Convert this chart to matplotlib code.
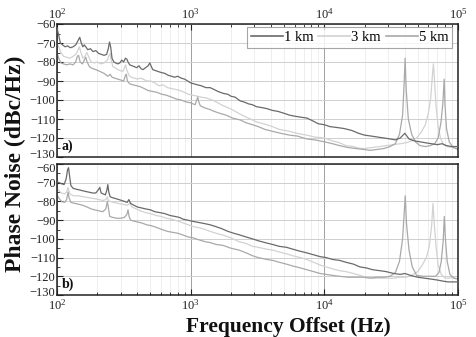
import matplotlib
matplotlib.use("Agg")
import matplotlib.pyplot as plt
import matplotlib.transforms as mtransforms
from matplotlib.ticker import LogLocator, MultipleLocator, FixedLocator

plt.rcParams['font.family'] = ['Liberation Serif', 'DejaVu Serif']
plt.rcParams['mathtext.fontset'] = 'custom'
plt.rcParams['mathtext.rm'] = 'Liberation Serif'
plt.rcParams['mathtext.it'] = 'Liberation Serif:italic'
plt.rcParams['mathtext.bf'] = 'Liberation Serif:bold'

series_labels = ["1 km", "3 km", "5 km"]
series_colors = ["#6a6a6a", "#d2d2d2", "#a9a9a9"]
yticks = [-60, -70, -80, -90, -100, -110, -120, -130]
xtick_labels = ["10$^{2}$", "10$^{3}$", "10$^{4}$", "10$^{5}$"]
xtick_values = [1e2, 1e3, 1e4, 1e5]

# ---------------- panel a ----------------
a_1km_f = [100, 103, 106, 110, 115, 120, 126, 132, 138, 143, 148, 152, 156, 160, 164, 170, 178, 186, 195, 205,
           215, 225, 235, 242, 247, 252, 258, 266, 275, 285, 295, 305, 315, 325, 333, 340, 350, 365, 380, 395,
           410, 425, 440, 460, 480, 495, 505, 520, 545, 570, 600, 640, 680, 720, 760, 800, 850, 900, 950, 1000,
           1060, 1120, 1200, 1300, 1400, 1500, 1600, 1750, 1900, 2000, 2150, 2350, 2500, 2700, 2900, 3100, 3400,
           3700, 4100, 4500, 5000, 5500, 6000, 6600, 7400, 8200, 9000, 10000, 11000, 12500, 14000, 16000, 18000,
           20000, 22500, 25000, 28000, 31000, 34000, 37000, 40000, 43000, 47000, 52000, 57000, 63000, 70000,
           76000, 82000, 90000, 100000]
a_1km_v = [-62, -66, -70, -71, -72, -71.5, -72.5, -72, -71, -69, -67, -70, -72, -71, -72, -73.5, -73, -74.5, -74, -75.5,
           -76, -76.5, -76, -73, -69.5, -72, -78, -80, -80.5, -81, -80.5, -79, -80, -78, -78.5, -80, -81.5, -82, -82.5, -83,
           -82, -83.5, -84, -83, -82, -80.5, -82, -84, -84.5, -85, -85.5, -86, -87, -87.5, -88, -87.5, -88.5, -89, -90, -91,
           -91.5, -92, -92.5, -93.5, -93.5, -94.5, -95.5, -96.5, -97, -98, -98.5, -100.5, -101, -102, -102.5, -103.5, -104,
           -104.5, -105.5, -106, -107, -108, -108.5, -109, -109.5, -111, -112.5, -113, -114, -114.5, -115, -116, -117.5,
           -118.5, -119, -119.5, -120, -120.5, -121, -120, -117.5, -120.5, -121.5, -122, -122.5, -123, -123.5,
           -123, -124, -124.5, -124.5]

a_3km_f = [100, 103, 107, 112, 118, 125, 132, 138, 143, 147, 151, 156, 162, 167, 172, 180, 190, 200, 212, 225,
           238, 244, 249, 254, 262, 272, 285, 298, 310, 320, 326, 332, 345, 360, 380, 400, 420, 440, 470, 500,
           540, 580, 620, 670, 720, 780, 830, 900, 960, 1040, 1120, 1200, 1320, 1450, 1600, 1750, 1900, 2100, 2350,
           2600, 2900, 3100, 3500, 4100, 4600, 5500, 6200, 7400, 8500, 10000, 11500, 13000, 14500, 16500, 18500,
           20000, 23000, 26000, 29000, 33000, 37000, 41000, 45000, 49000, 53000, 57000, 60000, 62500, 64500,
           65500, 66500, 68500, 71000, 74000, 78000, 83000, 90000, 100000]
a_3km_v = [-70, -72, -75, -77, -77.5, -78, -77, -76, -74, -72, -75, -78, -77, -75, -77, -80, -80.5, -80, -81, -80.5,
           -79, -77, -75.5, -79, -82.5, -83, -84, -84.5, -85, -83, -81.5, -84, -87, -88, -88.5, -89, -88.5, -89, -90, -90,
           -91, -92.5, -92, -93.5, -94, -94.5, -95, -96, -97, -97.5, -98, -98.5, -99, -100, -101.5, -103, -104, -105.5, -107.5,
           -109, -110.5, -111.5, -112.5, -114, -115.5, -116.5, -117.5, -118.5, -119.5, -120, -121.5, -122.5, -124, -124.5, -125.5,
           -125.5, -125, -124.5, -124, -123.5, -123, -122.5, -121.5, -120, -117, -113, -107, -99, -86,
           -81, -88, -103, -114, -120, -123.5, -124.5, -125, -125.5]

a_5km_f = [100, 103, 107, 112, 118, 125, 132, 138, 142, 145, 149, 155, 160, 164, 168, 175, 185, 195, 210, 225,
           240, 250, 258, 270, 285, 300, 315, 325, 330, 336, 350, 370, 395, 420, 450, 480, 520, 560, 610, 660,
           720, 780, 850, 920, 1000, 1080, 1110, 1130, 1150, 1180, 1260, 1390, 1500, 1650, 1850, 2050, 2350, 2600,
           2900, 3200, 3600, 4100, 4700, 5500, 6300, 7400, 8500, 10000, 11500, 13000, 15000, 17000, 19500, 22000,
           25000, 28000, 31000, 34000, 36500, 38500, 39500, 40200, 41000, 42500, 45000, 48000, 52000, 57000,
           62000, 67000, 71000, 74500, 77000, 78800, 80000, 82000, 86000, 92000, 100000]
a_5km_v = [-75, -78, -80.5, -81, -81.5, -81, -81.5, -80, -77, -76.5, -80, -81, -79, -77.5, -80, -82.5, -83.5, -84, -85, -86,
           -87.5, -86.5, -88, -88.5, -89, -89.5, -90, -87, -86.5, -90, -91.5, -92, -92.5, -93, -94, -95, -95.5, -96, -97, -97.5,
           -98.5, -99.5, -100, -101, -101.5, -102.5, -100, -98.5, -101, -103, -104, -105, -106, -107, -108, -109.5, -110.5, -112,
           -113, -114, -115.5, -116.5, -117.5, -118.5, -119, -120.5, -121, -122, -123, -124, -125, -125.5, -126, -126.5,
           -126, -125.5, -124.5, -123, -118, -108, -92, -78, -95, -110, -118, -122, -124, -124.5,
           -124, -123, -120, -112, -102, -89, -103, -115, -122, -125, -126]

# ---------------- panel b ----------------
b_1km_f = [100, 104, 108, 113, 117, 120, 122, 124, 127, 132, 140, 150, 160, 172, 185, 195, 203, 209, 214, 222,
           230, 236, 240, 244, 250, 260, 275, 290, 305, 320, 335, 345, 355, 375, 400, 430, 460, 500, 540, 590,
           640, 700, 760, 820, 880, 950, 1020, 1100, 1200, 1300, 1400, 1550, 1700, 1900, 2100, 2350, 2600, 2900,
           3200, 3600, 4100, 4600, 5200, 5800, 6500, 7400, 8300, 9300, 10300, 11500, 13000, 14500, 16500, 18500,
           20500, 23000, 26000, 29000, 33000, 37000, 40000, 44000, 50000, 56000, 63000, 70000, 76000, 84000,
           92000, 100000]
b_1km_v = [-69.5, -70, -70.5, -71, -68, -63, -62, -66, -71.5, -73, -73.5, -74, -74.5, -75, -75.5, -75.5, -74, -72.5, -75.5, -76,
           -76.5, -74, -71, -75, -77.5, -78, -78.5, -79, -79.5, -80, -80.5, -79, -81, -82, -83, -83.5, -84, -84.5, -85.5, -86,
           -86.5, -87.5, -88, -88.5, -89.5, -90, -90.5, -91, -91.5, -92, -92.5, -93.5, -94.5, -96, -97, -98, -99, -100,
           -101, -102, -103, -104, -104.5, -105.5, -106.5, -107.5, -108.5, -109.5, -110, -111, -111.5, -112.5, -113.5, -115,
           -115.5, -116.5, -117, -117.5, -118.5, -119, -118.5, -119.5, -120.5, -121, -121.5, -122, -122.5, -123,
           -123, -123]

b_3km_f = [100, 104, 108, 114, 118, 121, 124, 128, 135, 145, 158, 172, 190, 205, 220, 232, 238, 242, 250, 265,
           285, 310, 335, 350, 365, 390, 420, 460, 500, 550, 600, 660, 720, 800, 880, 960, 1050, 1150, 1280, 1400,
           1550, 1750, 2000, 2300, 2600, 2900, 3200, 3700, 4100, 4600, 5200, 5800, 6600, 7400, 8300, 9300, 10300,
           11500, 13000, 14500, 16500, 18500, 20500, 23000, 26000, 29000, 33000, 37000, 41000, 45000, 50000,
           54000, 58000, 61000, 63500, 65000, 66500, 68500, 71000, 75000, 80000, 86000, 93000, 100000]
b_3km_v = [-73, -74.5, -75.5, -76, -75, -72.5, -75.5, -76.5, -77, -77, -77.5, -78, -78.5, -79, -79.5, -79, -77.5, -79.5, -80, -80.5,
           -81, -81.5, -82, -81, -83, -84, -85, -86, -86.5, -87.5, -88, -89, -89.5, -90.5, -91.5, -92.5, -93.5, -94, -95, -96,
           -97, -98, -99.5, -101.5, -102.5, -104, -104.5, -105.5, -106, -107, -108, -109, -110, -111, -112.5, -114, -115,
           -116, -117, -117.5, -118.5, -119.5, -120.5, -121, -121, -121, -121, -120.5, -120.5, -119.5, -117.5,
           -114, -110, -104, -93, -81, -92, -104, -114, -119, -121, -121, -120.5, -120]

b_5km_f = [100, 104, 108, 114, 118, 121, 123, 127, 135, 145, 155, 168, 180, 192, 205, 220, 232, 238, 242, 248,
           260, 280, 300, 320, 333, 340, 346, 355, 375, 400, 430, 470, 510, 560, 610, 670, 730, 800, 880, 960,
           1050, 1150, 1280, 1400, 1550, 1750, 2000, 2300, 2600, 2900, 3200, 3700, 4100, 4600, 5200, 5800, 6600,
           7400, 8300, 9300, 10300, 11500, 13000, 15000, 17000, 19500, 22000, 25000, 28000, 31000, 34000, 36500,
           38500, 39600, 40300, 41200, 43000, 45500, 49000, 55000, 62000, 68000, 72000, 75000, 77500, 79000,
           80500, 83000, 87000, 93000, 100000]
b_5km_v = [-76.5, -78.5, -80, -80.5, -79, -75, -78, -80.5, -81, -81.5, -82, -83, -84, -84.5, -85, -85.5, -84, -80, -83, -88,
           -88.5, -89, -89, -88.5, -87, -84.5, -88, -90, -90.5, -91, -91.5, -92.5, -93, -94, -95, -96, -96.5, -97, -98, -99,
           -99.5, -100.5, -101.5, -102, -103, -103.5, -105, -106, -107.5, -109, -110, -111, -111.5, -112.5, -113.5, -114.5, -115.5,
           -116.5, -117.5, -118.5, -119, -119.5, -120, -120.5, -120.5, -120.5, -121, -120.5, -120.5, -120, -118, -112,
           -100, -86, -77, -92, -106, -115, -119.5, -120, -120, -120, -118, -112, -101, -88,
           -100, -112, -119, -121, -121.5]

panel_a = [(a_1km_f, a_1km_v), (a_3km_f, a_3km_v), (a_5km_f, a_5km_v)]
panel_b = [(b_1km_f, b_1km_v), (b_3km_f, b_3km_v), (b_5km_f, b_5km_v)]

fig = plt.figure(figsize=(4.77, 3.37), dpi=100)
ax_a = fig.add_axes([57/477, 1-157/337, 401/477, 133/337])
ax_b = fig.add_axes([57/477, 1-295/337, 401/477, 131/337])

for ax, panel, tag, top in [(ax_a, panel_a, "a)", True), (ax_b, panel_b, "b)", False)]:
    for (f, v), lab, col in zip(panel, series_labels, series_colors):
        ax.plot(f, v, color=col, lw=0.9, label=lab, zorder=3 if lab == "1 km" else 2)
    ax.set_xscale("log")
    ax.set_xlim(1e2, 1e5)
    ax.set_ylim(-130, -60)
    ax.set_yticks(yticks)
    ax.yaxis.set_minor_locator(MultipleLocator(5))
    ax.xaxis.set_major_locator(FixedLocator(xtick_values))
    ax.set_xticklabels(xtick_labels)
    ax.xaxis.set_minor_locator(LogLocator(base=10, subs=range(2, 10)))
    ax.grid(True, which="major", axis="x", color="#a0a0a0", lw=0.7, zorder=0)
    ax.grid(True, which="minor", axis="x", color="#ebebeb", lw=0.6, zorder=0)
    ax.grid(True, which="major", axis="y", color="#cfcfcf", lw=0.7, zorder=0)
    ax.tick_params(axis="both", which="both", direction="in", labelsize=9, colors="#222222",
                   labelcolor="#222222", right=False)
    ax.tick_params(axis="both", which="major", length=4, width=0.8)
    ax.tick_params(axis="both", which="minor", length=2.5, width=0.6)
    ax.tick_params(axis="x", which="both", top=top, bottom=not top, labeltop=top, labelbottom=not top,
                   pad=2)
    ax.tick_params(axis="y", pad=1)
    for s in ax.spines.values():
        s.set_color("#222222")
        s.set_linewidth(1.1)
    ax.text(0.012, 0.03, tag, transform=ax.transAxes, fontsize=10, fontweight="bold",
            ha="left", va="bottom", color="#111111")

# nudge the touching y tick labels apart (as in the reference)
fig.canvas.draw()
up = mtransforms.ScaledTranslation(0, 3.5/100, fig.dpi_scale_trans)
down = mtransforms.ScaledTranslation(0, -3/100, fig.dpi_scale_trans)
up_b = mtransforms.ScaledTranslation(0, 3/100, fig.dpi_scale_trans)
lab_a = ax_a.get_yticklabels()
lab_b = ax_b.get_yticklabels()
lab_a[-1].set_transform(lab_a[-1].get_transform() + up)
lab_b[0].set_transform(lab_b[0].get_transform() + down)
lab_b[-1].set_transform(lab_b[-1].get_transform() + up_b)

leg = ax_a.legend(loc="upper right", ncol=3, fontsize=10.5, frameon=True, fancybox=False,
                  handlelength=2.2, handletextpad=0.05, columnspacing=0.35, borderpad=0.25,
                  bbox_to_anchor=(0.985, 0.975), borderaxespad=0.0)
leg.get_frame().set_edgecolor("#909090")
leg.get_frame().set_linewidth(0.8)
for line in leg.get_lines():
    line.set_linewidth(1.2)

fig.text(0.033, 0.513, "Phase Noise (dBc/Hz)", rotation=90, ha="center", va="center",
         fontsize=17, fontweight="bold", color="#111111")
fig.text(0.604, 0.030, "Frequency Offset (Hz)", ha="center", va="center",
         fontsize=15.5, fontweight="bold", color="#111111")

fig.savefig("out.png", dpi=100)
